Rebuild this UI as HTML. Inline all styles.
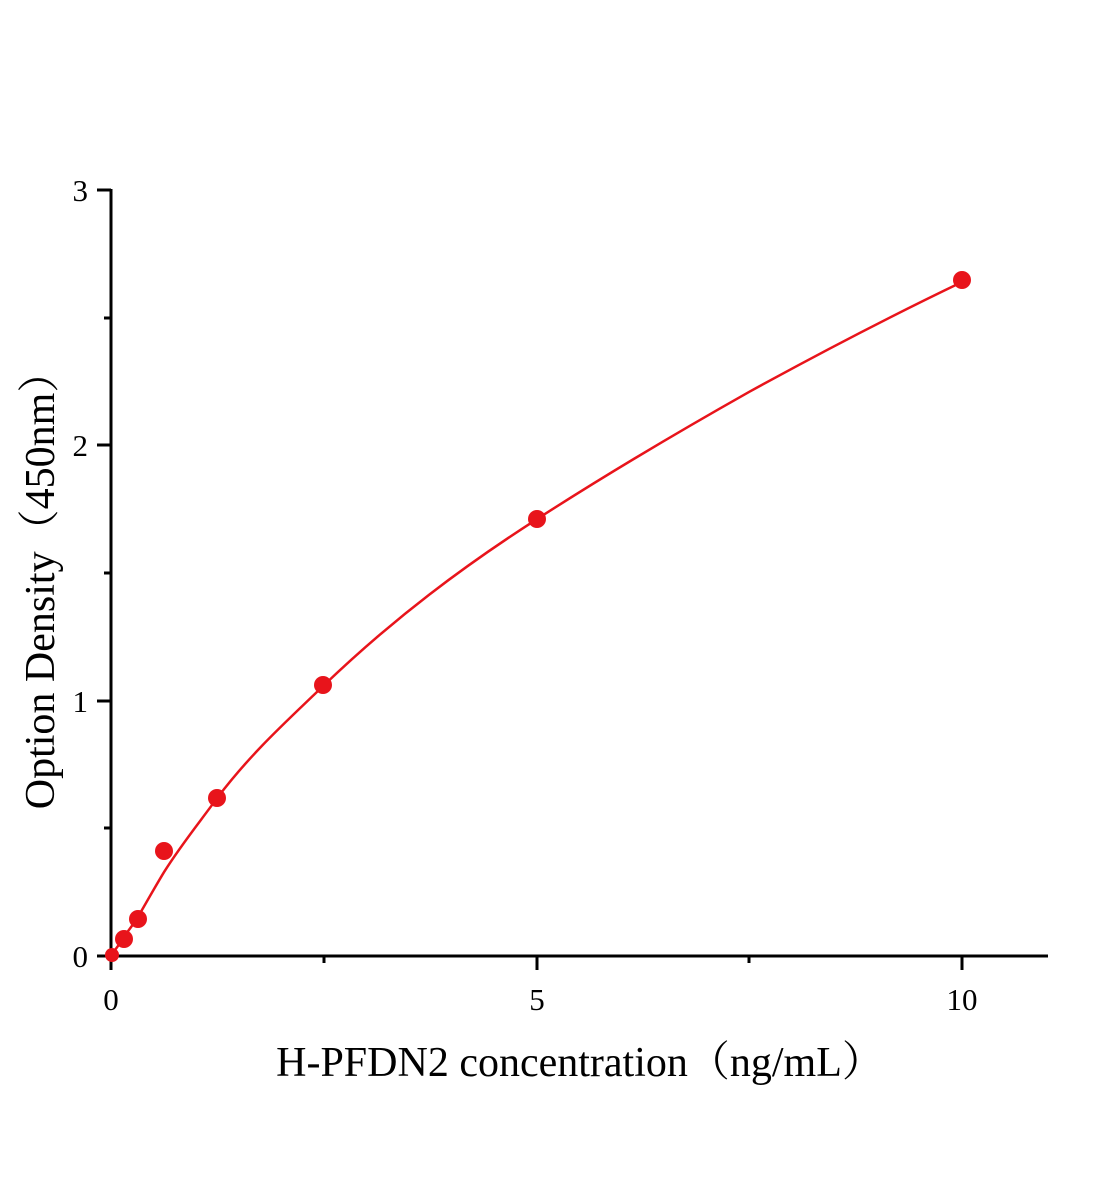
<!DOCTYPE html>
<html><head><meta charset="utf-8"><style>
html,body{margin:0;padding:0;background:#fff;}
svg{display:block;}
text{font-family:"Liberation Serif","Noto Serif CJK SC",serif;fill:#000;}
</style></head><body>
<svg width="1104" height="1200" viewBox="0 0 1104 1200" xmlns="http://www.w3.org/2000/svg">
<g stroke="#000" stroke-width="3" fill="none">
<line x1="111" y1="189" x2="111" y2="957"/>
<line x1="110" y1="956" x2="1048" y2="956"/>
<line x1="97" y1="190" x2="111" y2="190"/>
<line x1="97" y1="445" x2="111" y2="445"/>
<line x1="97" y1="701" x2="111" y2="701"/>
<line x1="97" y1="956" x2="111" y2="956"/>
<line x1="104" y1="318" x2="111" y2="318"/>
<line x1="104" y1="573" x2="111" y2="573"/>
<line x1="104" y1="828" x2="111" y2="828"/>
<line x1="111" y1="956" x2="111" y2="970"/>
<line x1="537" y1="956" x2="537" y2="970"/>
<line x1="962" y1="956" x2="962" y2="970"/>
<line x1="324" y1="956" x2="324" y2="963"/>
<line x1="749" y1="956" x2="749" y2="963"/>
</g>
<g font-size="31" text-anchor="end">
<text x="88" y="201">3</text>
<text x="88" y="456">2</text>
<text x="88" y="712">1</text>
<text x="88" y="967">0</text>
</g>
<g font-size="31" text-anchor="middle">
<text x="111" y="1010">0</text>
<text x="537" y="1010">5</text>
<text x="962" y="1010">10</text>
</g>
<text x="580" y="1076" font-size="42" text-anchor="middle">H-PFDN2 concentration（ng/mL）</text>
<text transform="translate(54,580) rotate(-90)" font-size="42" text-anchor="middle">Option Density（450nm）</text>
<path d="M111,956 C116,948 120,944 124.3,936.9 C129,929 133,925 137.6,917.7 C146,903 155,887 164.2,871.8 C181,845 199,823 217.4,797.7 C252,752 287,721 323.8,685.4 C394,618 464,566 536.5,519.4 C607,474 678,432 749.3,391.8 C820,353 891,316 962,282" stroke="#e8141b" stroke-width="2.5" fill="none"/>
<g fill="#e8141b">
<circle cx="112" cy="955" r="7"/>
<circle cx="124" cy="939" r="9"/>
<circle cx="138" cy="919" r="9"/>
<circle cx="164" cy="851" r="9"/>
<circle cx="217" cy="798" r="9"/>
<circle cx="323" cy="685" r="9"/>
<circle cx="537" cy="519" r="9"/>
<circle cx="962" cy="280" r="9"/>
</g>
</svg>
</body></html>
